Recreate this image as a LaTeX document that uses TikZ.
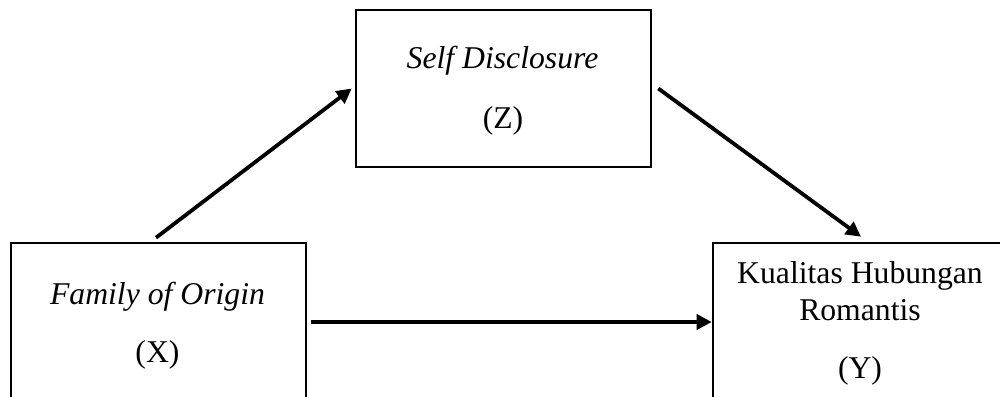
\documentclass[tikz,border=0pt]{standalone}
\usepackage{fontspec}
\setmainfont{Liberation Serif}
\usetikzlibrary{arrows.meta}
\begin{document}
\begin{tikzpicture}[x=1pt,y=-1pt,
  box/.style={draw, line width=2.6pt, rectangle, inner sep=0pt},
  lbl/.style={font=\fontsize{31.7}{38}\selectfont, inner sep=0pt, anchor=base},
  arr/.style={line width=3.8pt, -{Triangle[length=15pt,width=15pt]}}]
\useasboundingbox (0,0) rectangle (1000,396);
\clip (0,0) rectangle (1000,396);
\node[box, minimum width=295pt, minimum height=177pt] (X) at (158.5,331.5) {};
\node[box, minimum width=295pt, minimum height=157pt] (Z) at (503.5,88.5) {};
\node[box, minimum width=294pt, minimum height=177pt] (Y) at (860,331.5) {};
\node[lbl] (xt) at (157.5,304) {\itshape Family of Origin};
\node[lbl] (xl) at (157.5,362) {(X)};
\node[lbl] (zt) at (502.5,68) {\itshape Self Disclosure};
\node[lbl] (zl) at (503,128) {(Z)};
\node[lbl] (yt1) at (860,283) {Kualitas Hubungan};
\node[lbl] (yt2) at (860,320) {Romantis};
\node[lbl] (yl) at (860,378) {(Y)};
\coordinate (a1s) at ([xshift=-2.5pt,yshift=4pt]X.north);
\coordinate (a1e) at ([xshift=-3pt]Z.west);
\coordinate (a2s) at ([xshift=6pt]Z.east);
\coordinate (a2e) at ([xshift=1pt,yshift=5pt]Y.north);
\coordinate (a3s) at ([xshift=4pt,yshift=9.5pt]X.east);
\coordinate (a3e) at ([yshift=9.5pt]Y.west);
\draw[arr] (a1s) -- (a1e);
\draw[arr] (a2s) -- (a2e);
\draw[arr] (a3s) -- (a3e);
\end{tikzpicture}
\end{document}
